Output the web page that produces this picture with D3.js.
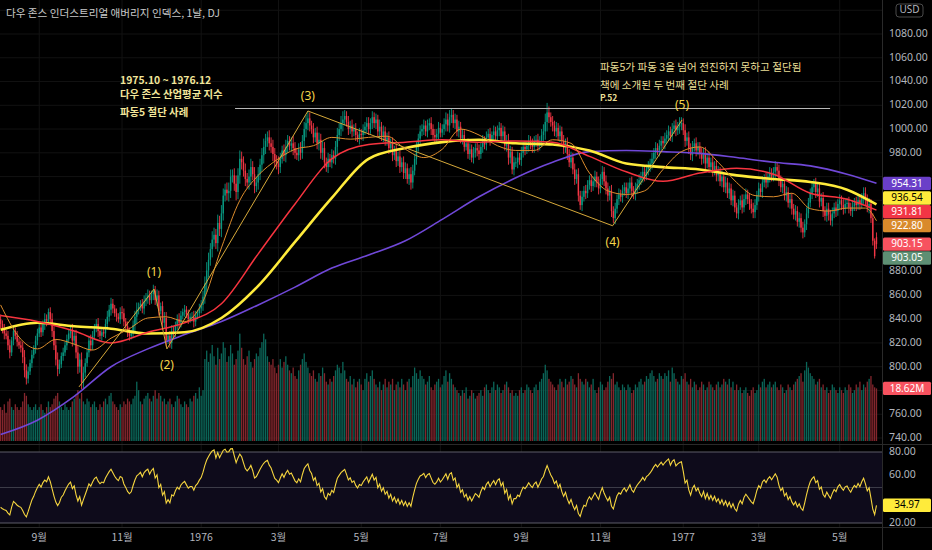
<!DOCTYPE html>
<html>
<head>
<meta charset="utf-8">
<script src="https://cdn.jsdelivr.net/npm/d3@7/dist/d3.min.js"></script>
<style>
    * { margin: 0; padding: 0; }
    body { background: #000; width: 932px; height: 550px; overflow: hidden; }
    svg text { font-family: 'Noto Sans', 'Noto Sans CJK KR', sans-serif; }
    .kr { font-family: 'Noto Sans CJK KR', sans-serif !important; }
</style>
</head>
<body>
<svg id="chart" width="932" height="550"></svg>
<script>
// daily bars, weekdays from this date
var startDate = new Date(1975, 7, 1);
var firstOpen = 840;
var lastOpen = 909;

var closes = [
    836, 831, 828, 826, 818, 812, 822, 830, 826, 821,
    818, 816, 808, 797, 790, 796, 803, 810, 815, 822,
    828, 833, 829, 836, 840, 838, 846, 840, 830, 818,
    806, 798, 802, 809, 812, 818, 823, 828, 831, 822,
    826, 812, 800, 806, 787, 795, 803, 812, 822, 818,
    826, 833, 836, 830, 826, 829, 828, 836, 842, 848,
    853, 849, 845, 842, 840, 846, 845, 838, 834, 829,
    826, 828, 835, 842, 848, 850, 853, 849, 855, 858,
    860, 856, 861, 864, 856, 860, 847, 851, 837, 841,
    822, 826, 820, 830, 828, 835, 840, 837, 843, 846,
    848, 844, 840, 842, 842, 838, 843, 845, 849, 852,
    859, 870, 881, 890, 899, 907, 911, 904, 921, 916,
    929, 944, 949, 946, 948, 960, 961, 954, 947, 961,
    975, 972, 965, 958, 955, 960, 968, 962, 952, 955,
    962, 970, 978, 985, 990, 993, 988, 985, 979, 973,
    971, 968, 975, 982, 978, 985, 990, 986, 988, 984,
    980, 978, 983, 980, 990, 1000, 1005, 1009, 1003, 1000,
    993, 997, 988, 991, 980, 984, 972, 968, 975, 972,
    978, 975, 985, 995, 1000, 1005, 1008, 1011, 1006, 1000,
    1003, 998, 1000, 995, 992, 996, 995, 999, 1002, 1005,
    1000, 1005, 1010, 1005, 1008, 998, 1002, 994, 998, 990,
    993, 984, 988, 978, 982, 973, 977, 968, 972, 963,
    967, 958, 962, 955, 965, 975, 985, 992, 998, 1000,
    1003, 998, 1003, 1005, 1000, 995, 993, 996, 1001, 997,
    1000, 1004, 1008, 1003, 1010, 1012, 1005, 1008, 998, 1002,
    992, 995, 985, 988, 979, 983, 976, 980, 984, 982,
    979, 985, 990, 987, 993, 996, 991, 995, 998, 994,
    999, 1001, 994, 998, 986, 990, 976, 981, 966, 972,
    972, 976, 974, 980, 985, 983, 986, 990, 987, 985,
    989, 991, 986, 990, 995, 998, 1006, 1014, 1010, 1006,
    1003, 998, 1001, 994, 998, 990, 984, 988, 979, 972,
    976, 966, 958, 962, 944, 936, 943, 948, 946, 953,
    957, 952, 956, 960, 955, 950, 958, 964, 956, 950,
    944, 948, 931, 925, 933, 941, 945, 943, 948, 951,
    946, 950, 955, 948, 945, 950, 954, 957, 960, 964,
    961, 966, 968, 971, 975, 980, 984, 982, 986, 990,
    988, 992, 995, 998, 994, 1000, 1003, 999, 1002, 1004,
    1005, 999, 990, 993, 984, 978, 985, 988, 982, 985,
    979, 975, 980, 971, 976, 968, 972, 965, 969, 961,
    964, 956, 960, 951, 955, 946, 950, 940, 944, 934,
    929, 936, 940, 934, 941, 945, 941, 937, 933, 930,
    936, 944, 950, 947, 955, 958, 955, 960, 963, 960,
    964, 968, 965, 957, 951, 954, 944, 947, 938, 941,
    933, 928, 931, 922, 925, 917, 913, 920, 929, 938,
    946, 951, 954, 947, 950, 939, 942, 931, 927, 933,
    928, 923, 929, 934, 931, 937, 940, 936, 933, 937,
    938, 934, 931, 935, 938, 936, 940, 937, 942, 946,
    941, 934, 937, 925, 906, 893, 903.15
];

// wick length beyond the body, points
var wicks = [
    4,3,5,3,4,5,3,4,3,4, 3,4,5,6,5,4,3,4,3,4, 4,3,4,3,5,4,3,4,5,4, 5,6,4,3,4,3,4,3,4,5,
    4,5,6,5,6,5,4,3,4,5, 4,3,4,5,3,4,3,4,5,4, 5,4,3,4,3,4,5,4,3,4, 4,3,4,5,6,4,3,4,5,4,
    5,4,3,5,4,5,4,3,4,5, 5,3,4,5,4,3,4,5,4,3, 4,3,4,3,4,5,4,3,4,4, 5,6,7,6,5,7,6,5,7,6,
    7,6,5,6,7,6,5,6,7,6, 7,6,5,6,5,6,7,5,6,5, 6,5,6,7,6,5,6,5,6,5, 5,6,5,4,5,6,5,4,5,6,
    5,4,5,6,5,6,7,6,5,4, 5,4,5,6,5,6,5,4,5,4, 5,4,5,6,5,6,7,5,4,5, 4,5,4,5,3,5,4,5,4,5,
    5,4,5,4,5,4,6,4,5,4, 4,5,4,5,4,5,4,5,4,5, 5,4,5,6,5,4,5,4,5,4, 5,4,5,4,5,4,5,4,5,4,
    4,5,6,5,6,5,4,5,4,5, 4,5,4,3,4,5,4,5,4,5, 5,4,5,4,5,4,5,3,5,4, 4,5,4,5,4,5,6,5,4,5,
    4,5,4,5,4,5,4,5,4,5, 5,4,5,4,5,6,7,8,5,4, 5,4,5,4,5,4,5,4,5,4, 5,4,5,4,5,4,5,4,5,4,
    4,5,4,5,4,5,4,5,4,5, 5,4,5,4,5,4,5,4,5,4, 4,5,4,5,4,5,4,5,4,5, 5,4,5,4,5,4,5,4,5,4,
    4,5,4,5,4,5,4,5,4,6, 5,4,5,4,5,4,5,4,5,4, 4,5,4,5,4,5,4,5,4,5, 5,4,5,4,5,4,5,4,5,4,
    4,5,4,5,4,5,4,5,4,5, 5,4,5,4,5,4,5,4,5,4, 4,5,4,5,4,5,4,5,4,5, 5,4,5,4,5,4,5,4,5,4,
    4,5,4,5,4,5,4,5,4,5, 5,4,5,4,5,4,5,4,5,4, 4,5,4,5,4,5,4,5,4,5, 5,4,5,4,4,2,4
];

// volume, millions of shares
var volumes = [
    12,11,13,10,14,15,12,11,13,12, 11,12,14,17,16,13,12,11,12,13, 11,12,13,11,10,12,14,12,13,15,
    16,17,14,12,11,13,12,11,12,14, 15,16,18,15,17,14,13,15,14,12, 13,14,12,11,13,12,14,15,13,16,
    17,14,13,12,11,13,12,14,13,15, 14,13,15,16,21,18,14,13,15,16, 17,15,14,16,18,15,17,16,14,15,
    13,14,15,13,12,14,16,15,13,12, 14,13,12,15,14,16,17,15,19,16, 18,29,32,28,31,34,30,27,33,29,
    31,35,33,28,30,34,31,27,29,32, 38,33,29,27,30,32,28,26,29,31, 30,33,35,38,36,30,28,27,29,26,
    24,27,29,26,28,30,27,25,24,26, 23,22,25,27,29,31,28,26,24,23, 25,22,21,24,23,26,24,21,20,22,
    21,23,25,27,26,24,28,25,22,21, 23,20,22,19,21,22,20,18,22,24, 21,23,25,22,20,19,21,18,20,22,
    19,21,20,22,18,20,21,19,22,20, 18,21,22,19,23,26,24,22,25,23, 22,20,21,23,19,18,20,21,22,19,
    20,23,25,21,24,22,20,19,18,17, 16,18,17,19,15,16,18,17,15,16, 17,18,16,19,20,18,17,19,21,18,
    20,19,17,18,20,21,19,17,18,16, 17,16,18,19,17,18,20,19,18,17, 19,20,18,21,22,24,27,25,22,21,
    20,19,18,20,22,21,19,22,20,21, 23,22,20,19,24,22,21,20,22,21, 19,20,22,18,17,19,21,20,18,19,
    21,23,22,24,20,21,19,18,20,19, 18,20,19,17,18,20,19,21,22,20, 21,23,22,24,25,23,21,22,24,23,
    22,24,23,25,21,26,24,22,21,20, 23,22,24,21,20,22,19,21,20,18, 19,21,20,18,19,21,20,19,18,20,
    21,19,20,22,21,20,22,19,21,18, 20,18,19,17,18,19,17,16,18,19, 17,18,20,19,21,22,19,20,21,19,
    20,21,19,18,20,19,17,18,20,19, 18,20,21,22,23,24,21,25,28,26, 24,23,22,20,21,22,19,20,18,19,
    17,18,20,19,18,17,19,18,17,19, 18,20,19,17,18,20,19,21,18,20, 19,21,22,23,20,19,18.62
];

// moving averages, one value every `step` bars (last = final bar)
var maOrange = [852, 825, 815, 823, 819, 814, 824, 832, 841, 842, 838, 855, 900, 940, 961, 974,
    983, 986, 993, 991.5, 993, 994, 983, 976, 983, 1000, 995, 986, 982, 982, 991, 988, 963, 948,
    945, 948, 966, 981, 985, 972, 955, 944, 943, 946, 933, 931, 933.5, 933.5, 922.80];
var maRed = [843, 838, 830, 820, 829, 837, 853, 895, 937, 975, 987, 989, 991, 989, 990, 989,
    977, 964, 956, 963, 967, 962, 946, 941, 931.81];
var maYellow = [831, 837, 834, 832, 828, 829, 841, 868, 905, 942, 975, 984, 989, 991, 988, 987,
    982, 971, 968, 966, 961, 958, 955.5, 949, 936.54];
var maPurple = [743, 755, 775, 800, 815, 827, 838, 852, 867, 883, 894, 906, 924, 943, 959, 972,
    981, 982, 981, 979.5, 976, 972, 969, 962, 954.31];
var extraMarker = 903.05;

// elliott wave pivots: [bar index, price]
var wavePoints = [[42.6, 783], [83.4, 865.4], [90.4, 815], [167, 1015.2], [332.6, 918.6], [370.3, 1007.6]];
var waveLabels = ['(1)', '(2)', '(3)', '(4)', '(5)'];
var topLine = [127.4, 450.8, 1017.3];

var priceTicks = [740, 760, 780, 800, 820, 840, 860, 880, 900, 920, 940, 960, 980, 1000, 1020, 1040, 1060, 1080, 1100];
var rsiTicks = [20, 40, 60, 80];
var rsiLevels = [80, 50, 20];
var rsiSeed = [3, 6];

var title = '다우 존스 인더스트리얼 애버리지 인덱스, 1날, DJ';
var noteLeft = ['1975.10 ~ 1976.12', '다우 존스 산업평균 지수', '파동5 절단 사례'];
var noteRight = ['파동5가 파동 3을 넘어 전진하지 못하고 절단됨', '책에 소개된 두 번째 절단 사례', 'P.52'];

var GREEN = '#089981', RED = '#f23645';
var plotR = 882, priceBottom = 443, rsiTop = 446, rsiBottom = 527;

var n = closes.length;
var dates = [];
var d = new Date(startDate);
while (dates.length < n) {
    if (d.getDay() !== 0 && d.getDay() !== 6) dates.push(new Date(d));
    d.setDate(d.getDate() + 1);
}

var bars = closes.map(function(c, i) {
    var o = i === 0 ? firstOpen : (i === n - 1 ? lastOpen : closes[i - 1]);
    return {i: i, o: o, c: c, h: Math.max(o, c) + wicks[i], l: Math.min(o, c) - wicks[i], v: volumes[i], up: c >= o};
});

var x = d3.scaleLinear().domain([-0.33, 479]).range([0, plotR]);
var y = d3.scaleLinear().domain([740, 1080]).range([438, 34]);
var yVol = d3.scaleLinear().domain([0, 40]).range([441, 328]);
var yRsi = d3.scaleLinear().domain([20, 80]).range([523, 452]);

var svg = d3.select('#chart');
svg.append('rect').attr('width', 932).attr('height', 550).attr('fill', '#000');

var defs = svg.append('defs');
defs.append('clipPath').attr('id', 'cp').append('rect').attr('width', plotR).attr('height', priceBottom);
defs.append('clipPath').attr('id', 'cr').append('rect').attr('y', rsiTop).attr('width', plotR).attr('height', rsiBottom - rsiTop);

// month ticks (odd months shown)
var monthTicks = [];
dates.forEach(function(dt, i) {
    if (i > 0 && dt.getMonth() !== dates[i - 1].getMonth() && dt.getMonth() % 2 === 0) monthTicks.push({i: i, dt: dt});
});

var grid = svg.append('g');
grid.selectAll('.vg').data(monthTicks).enter().append('line')
    .attr('x1', function(t) { return x(t.i); }).attr('x2', function(t) { return x(t.i); })
    .attr('y1', 0).attr('y2', rsiBottom).attr('stroke', '#121212');
grid.selectAll('.hg').data(priceTicks).enter().append('line')
    .attr('x1', 0).attr('x2', plotR).attr('y1', function(p) { return y(p); }).attr('y2', function(p) { return y(p); })
    .attr('stroke', '#121212');

var pane = svg.append('g').attr('clip-path', 'url(#cp)');

// volume
pane.selectAll('.vol').data(bars).enter().append('rect')
    .attr('x', function(b) { return x(b.i) - 0.65; }).attr('width', 1.3)
    .attr('y', function(b) { return yVol(b.v); })
    .attr('height', function(b) { return yVol(0) - yVol(b.v); })
    .attr('fill', function(b) { return b.up ? '#0b6659' : '#84262d'; });

// candles
pane.selectAll('.wick').data(bars).enter().append('line')
    .attr('x1', function(b) { return x(b.i); }).attr('x2', function(b) { return x(b.i); })
    .attr('y1', function(b) { return y(b.h); }).attr('y2', function(b) { return y(b.l); })
    .attr('stroke', function(b) { return b.up ? GREEN : RED; }).attr('stroke-width', 0.9);
pane.selectAll('.body').data(bars).enter().append('rect')
    .attr('x', function(b) { return x(b.i) - 0.7; }).attr('width', 1.4)
    .attr('y', function(b) { return y(Math.max(b.o, b.c)); })
    .attr('height', function(b) { return Math.max(1, Math.abs(y(b.o) - y(b.c))); })
    .attr('fill', function(b) { return b.up ? GREEN : RED; });

// moving averages
function maLine(vals, step, color, width) {
    var pts = vals.map(function(v, k) { return [Math.min(k * step, n - 1), v]; });
    pane.append('path').datum(pts)
        .attr('d', d3.line().x(function(p) { return x(p[0]); }).y(function(p) { return y(p[1]); }).curve(d3.curveMonotoneX))
        .attr('fill', 'none').attr('stroke', color).attr('stroke-width', width);
}
maLine(maPurple, 20, '#7048d8', 1.6);
maLine(maYellow, 20, '#ffeb3b', 2.6);
maLine(maRed, 20, '#f7343f', 1.5);
maLine(maOrange, 10, '#de8d2c', 1);

// wave lines and top line
pane.append('path').datum(wavePoints)
    .attr('d', d3.line().x(function(p) { return x(p[0]); }).y(function(p) { return y(p[1]); }))
    .attr('fill', 'none').attr('stroke', '#d6a93a').attr('stroke-width', 1);
pane.append('line')
    .attr('x1', x(topLine[0])).attr('x2', x(topLine[1]))
    .attr('y1', y(topLine[2])).attr('y2', y(topLine[2]))
    .attr('stroke', '#b8b8b8').attr('stroke-width', 1);

var labelOff = [[0, -16], [0, 17], [0, -14], [0, 17], [0, -14]];
svg.selectAll('.wl').data(waveLabels).enter().append('text')
    .attr('x', function(t, k) { return x(wavePoints[k + 1][0]) + labelOff[k][0]; })
    .attr('y', function(t, k) { return y(wavePoints[k + 1][1]) + labelOff[k][1]; })
    .attr('text-anchor', 'middle').attr('dominant-baseline', 'middle')
    .attr('fill', '#f7d64a').attr('font-size', 12).text(function(t) { return t; });

// notes
svg.selectAll('.nl').data(noteLeft).enter().append('text').attr('class', 'kr')
    .attr('x', 120).attr('y', function(t, k) { return [81, 95.5, 113][k]; })
    .attr('dominant-baseline', 'middle').attr('fill', '#f2e59a')
    .attr('font-size', 10.4).attr('font-weight', 'bold').text(function(t) { return t; });
svg.selectAll('.nr').data(noteRight).enter().append('text').attr('class', 'kr')
    .attr('x', 600).attr('y', function(t, k) { return [68, 86, 98.5][k]; })
    .attr('dominant-baseline', 'middle').attr('fill', '#eadf96')
    .attr('font-size', function(t, k) { return k === 2 ? 8.5 : 10.6; })
    .attr('font-weight', function(t, k) { return k === 2 ? 'bold' : 'normal'; })
    .text(function(t) { return t; });

svg.append('text').attr('class', 'kr').attr('x', 6).attr('y', 14).attr('dominant-baseline', 'middle')
    .attr('fill', '#c9c9c9').attr('font-size', 10.6).text(title);

// RSI pane
var ag = rsiSeed[0], al = rsiSeed[1];
var rsi = closes.map(function(c, i) {
    if (i > 0) {
        var ch = c - closes[i - 1];
        ag = (ag * 13 + Math.max(ch, 0)) / 14;
        al = (al * 13 + Math.max(-ch, 0)) / 14;
    }
    return 100 - 100 / (1 + ag / al);
});

svg.append('rect').attr('x', 0).attr('width', plotR)
    .attr('y', yRsi(80)).attr('height', yRsi(20) - yRsi(80)).attr('fill', '#0e0b1b');
svg.selectAll('.rl').data(rsiLevels).enter().append('line')
    .attr('x1', 0).attr('x2', plotR).attr('y1', function(v) { return yRsi(v); }).attr('y2', function(v) { return yRsi(v); })
    .attr('stroke', function(v) { return v === 50 ? '#3c3c48' : '#5c5c68'; }).attr('stroke-width', 1);
svg.append('g').attr('clip-path', 'url(#cr)').append('path').datum(rsi)
    .attr('d', d3.line().x(function(v, i) { return x(i); }).y(function(v) { return yRsi(v); }))
    .attr('fill', 'none').attr('stroke', '#f5d53f').attr('stroke-width', 1.1);

// pane borders
svg.append('line').attr('x1', 0).attr('x2', 932).attr('y1', 444.5).attr('y2', 444.5).attr('stroke', '#2a2a2a');
svg.append('line').attr('x1', 0).attr('x2', 932).attr('y1', rsiBottom + 0.5).attr('y2', rsiBottom + 0.5).attr('stroke', '#2a2a2a');
svg.append('line').attr('x1', plotR + 0.5).attr('x2', plotR + 0.5).attr('y1', 0).attr('y2', 550).attr('stroke', '#2a2a2a');

// last value badges, stacked so they do not overlap
var last = bars[n - 1];
var badges = [
    {v: maPurple[maPurple.length - 1], bg: '#6a3fc8', fg: '#fff'},
    {v: maYellow[maYellow.length - 1], bg: '#ffeb3b', fg: '#000'},
    {v: maRed[maRed.length - 1], bg: '#f23645', fg: '#fff'},
    {v: maOrange[maOrange.length - 1], bg: '#d98a2b', fg: '#fff'},
    {v: last.c, bg: last.up ? GREEN : '#f7525f', fg: '#fff', fixed: true},
    {v: extraMarker, bg: '#5e8f73', fg: '#fff'}
];
badges.forEach(function(b) { b.y = y(b.v); });
badges.sort(function(a, b) { return a.y - b.y; });
var gap = 13.8, clusters = [];
badges.forEach(function(b) {
    var cl = clusters[clusters.length - 1];
    if (cl && b.y - cl[cl.length - 1].y < gap) cl.push(b); else clusters.push([b]);
});
clusters.forEach(function(cl) {
    var fi = cl.findIndex(function(b) { return b.fixed; });
    var start = fi >= 0 ? cl[fi].y - fi * gap : d3.mean(cl, function(b) { return b.y; }) - (cl.length - 1) * gap / 2;
    cl.forEach(function(b, j) { b.ly = start + j * gap; });
});
var volBadge = {ly: yVol(last.v), bg: last.up ? GREEN : '#f7525f', fg: '#fff', label: last.v.toFixed(2) + 'M'};
var rsiBadge = {ly: yRsi(rsi[n - 1]), bg: '#ffeb3b', fg: '#000', label: rsi[n - 1].toFixed(2)};
var usdBadge = {ly: 10.5};

// axis labels hidden where a badge sits on them
function covered(py, list) {
    return list.some(function(b) { return Math.abs(b.ly - py) < 13.5; });
}
var axisTxt = '#b2b5be';
var priceShown = priceTicks.filter(function(p) { return !covered(y(p), badges.concat([volBadge, usdBadge])); });
svg.selectAll('.pt').data(priceShown).enter().append('text')
    .attr('x', 889).attr('y', function(p) { return y(p); }).attr('dominant-baseline', 'middle')
    .attr('fill', axisTxt).attr('font-size', 10.5).text(function(p) { return p.toFixed(2); });
svg.selectAll('.rt').data(rsiTicks.filter(function(v) { return !covered(yRsi(v), [rsiBadge]); })).enter().append('text')
    .attr('x', 889).attr('y', function(v) { return yRsi(v); }).attr('dominant-baseline', 'middle')
    .attr('fill', axisTxt).attr('font-size', 10.5).text(function(v) { return v.toFixed(2); });
svg.selectAll('.tt').data(monthTicks).enter().append('text').attr('class', 'kr')
    .attr('x', function(t) { return x(t.i); }).attr('y', 538).attr('text-anchor', 'middle').attr('dominant-baseline', 'middle')
    .attr('fill', axisTxt).attr('font-size', 10.5)
    .text(function(t) { return t.dt.getMonth() === 0 ? t.dt.getFullYear() : (t.dt.getMonth() + 1) + '월'; });

// currency badge
svg.append('rect').attr('x', 896).attr('y', 4).attr('width', 27).attr('height', 13).attr('rx', 3)
    .attr('fill', '#000').attr('stroke', '#4a4a4a');
svg.append('text').attr('x', 909.5).attr('y', usdBadge.ly).attr('text-anchor', 'middle').attr('dominant-baseline', 'middle')
    .attr('fill', axisTxt).attr('font-size', 10).text('USD');

var bg = svg.selectAll('.badge').data(badges.concat([volBadge, rsiBadge])).enter().append('g');
bg.append('rect').attr('x', 883).attr('width', 48).attr('height', 13.4)
    .attr('y', function(b) { return b.ly - 6.7; }).attr('rx', 1.5).attr('fill', function(b) { return b.bg; });
bg.append('text').attr('x', 907).attr('y', function(b) { return b.ly + 0.5; })
    .attr('text-anchor', 'middle').attr('dominant-baseline', 'middle').attr('font-size', 10)
    .attr('fill', function(b) { return b.fg; })
    .text(function(b) { return b.label || b.v.toFixed(2); });
</script>
</body>
</html>
